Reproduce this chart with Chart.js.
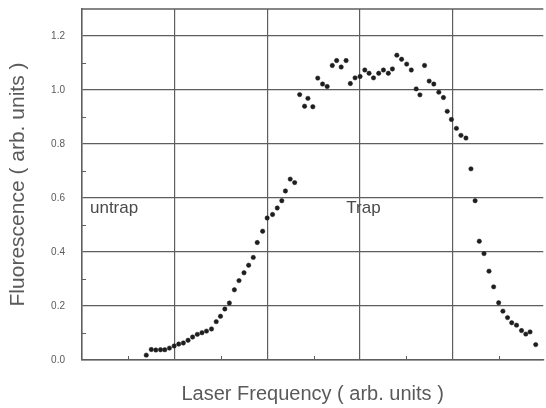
<!DOCTYPE html>
<html>
<head>
<meta charset="utf-8">
<script src="https://cdn.jsdelivr.net/npm/chart.js@4.4.1/dist/chart.umd.min.js"></script>
<style>
  html, body { margin: 0; padding: 0; background: #fff; }
  #wrap { width: 546px; height: 408px; }
</style>
</head>
<body>
<div id="wrap"><canvas id="fluoChart"></canvas></div>
<script>
// Fluorescence vs laser frequency

// laser frequency (arb. units, one grid cell = 1)
const freq = [
    0.694, 0.748, 0.797, 0.848, 0.894, 0.944, 0.995, 1.044, 1.094, 1.145,
    1.194, 1.245, 1.295, 1.344, 1.398, 1.449, 1.495, 1.542, 1.591, 1.645,
    1.695, 1.749, 1.799, 1.849, 1.892, 1.950, 1.999, 2.057, 2.108, 2.157,
    2.196, 2.248, 2.296, 2.350, 2.403, 2.439, 2.492, 2.545, 2.597, 2.647,
    2.702, 2.749, 2.798, 2.851, 2.897, 2.948, 3.002, 3.053, 3.099, 3.147,
    3.203, 3.254, 3.307, 3.351, 3.399, 3.450, 3.505, 3.555, 3.608, 3.648,
    3.698, 3.748, 3.798, 3.852, 3.902, 3.943, 3.988, 4.042, 4.091, 4.145,
    4.199, 4.244, 4.289, 4.340, 4.394, 4.444, 4.498, 4.544, 4.594, 4.639,
    4.691, 4.745, 4.791, 4.837, 4.898
];

// fluorescence (arb. units)
const fluo = [
    0.018, 0.039, 0.037, 0.038, 0.038, 0.044, 0.052, 0.059, 0.063, 0.073,
    0.085, 0.095, 0.101, 0.107, 0.115, 0.142, 0.162, 0.189, 0.211, 0.260,
    0.294, 0.323, 0.351, 0.380, 0.435, 0.477, 0.526, 0.539, 0.563, 0.590,
    0.626, 0.670, 0.657, 0.983, 0.940, 0.969, 0.938, 1.044, 1.022, 1.013,
    1.091, 1.109, 1.085, 1.109, 1.024, 1.045, 1.050, 1.074, 1.062, 1.045,
    1.062, 1.074, 1.062, 1.078, 1.129, 1.114, 1.096, 1.074, 1.004, 0.982,
    1.091, 1.033, 1.022, 0.992, 0.972, 0.921, 0.891, 0.858, 0.832, 0.822,
    0.708, 0.590, 0.440, 0.394, 0.329, 0.271, 0.212, 0.181, 0.157, 0.138,
    0.129, 0.109, 0.096, 0.104, 0.057
];

// y tick labels
const yTickValues = [0.0, 0.2, 0.4, 0.6, 0.8, 1.0, 1.2];
const yMinorTicks = [0.1, 0.3, 0.5, 0.7, 0.9, 1.1];
const xMinorTicks = [0.5, 1.5, 2.5, 3.5, 4.5];

// region labels
const regionLabels = [
    { text: 'untrap', x: 0.086, y: 0.561 },
    { text: 'Trap', x: 2.854, y: 0.561 }
];

const gridColor = '#5e5e5e';
const textColor = '#5a5a5a';

// top frame line and small inward ticks between grid lines
const minorTicksPlugin = {
    id: 'minorTicks',
    beforeDatasetsDraw(chart) {
        const { ctx, chartArea, scales: { x, y } } = chart;
        ctx.save();
        ctx.strokeStyle = gridColor;
        ctx.lineWidth = 1.5;
        ctx.beginPath();
        ctx.moveTo(chartArea.left, chartArea.top);
        ctx.lineTo(chartArea.right, chartArea.top);
        ctx.stroke();
        ctx.lineWidth = 1;
        yMinorTicks.forEach(v => {
            const py = Math.round(y.getPixelForValue(v)) + 0.5;
            ctx.beginPath();
            ctx.moveTo(x.left, py);
            ctx.lineTo(x.left + 4, py);
            ctx.stroke();
        });
        xMinorTicks.forEach(v => {
            const px = Math.round(x.getPixelForValue(v)) + 0.5;
            ctx.beginPath();
            ctx.moveTo(px, y.bottom);
            ctx.lineTo(px, y.bottom - 4);
            ctx.stroke();
        });
        ctx.restore();
    }
};

// "untrap" / "Trap" text inside the plot
const regionLabelPlugin = {
    id: 'regionLabels',
    afterDatasetsDraw(chart) {
        const { ctx, scales: { x, y } } = chart;
        ctx.save();
        ctx.font = '17px "Liberation Sans", Arial, sans-serif';
        ctx.fillStyle = '#4a4a4a';
        ctx.textBaseline = 'middle';
        ctx.textAlign = 'left';
        regionLabels.forEach(l => {
            ctx.fillText(l.text, x.getPixelForValue(l.x), y.getPixelForValue(l.y));
        });
        ctx.restore();
    }
};

new Chart(document.getElementById('fluoChart').getContext('2d'), {
    type: 'scatter',
    data: {
        datasets: [{
            label: 'Fluorescence',
            data: freq.map((f, i) => ({ x: f, y: fluo[i] })),
            pointRadius: 2.2,
            pointHoverRadius: 2.2,
            pointBackgroundColor: '#1e1e1e',
            pointBorderColor: '#1e1e1e',
            pointBorderWidth: 0.5
        }]
    },
    options: {
        responsive: true,
        maintainAspectRatio: false,
        animation: false,
        layout: { padding: { top: 9, right: 0, left: 0, bottom: 0 } },
        plugins: {
            legend: { display: false },
            tooltip: { enabled: false }
        },
        scales: {
            x: {
                type: 'linear',
                min: 0,
                max: 4.98,
                grid: { color: gridColor, lineWidth: 1.2, drawTicks: false },
                border: { color: gridColor, width: 1.5 },
                ticks: { display: false, stepSize: 1, includeBounds: false },
                title: {
                    display: true,
                    text: 'Laser Frequency ( arb. units )',
                    color: textColor,
                    font: { family: '"Liberation Sans", Arial, sans-serif', size: 20 },
                    padding: { top: 22, bottom: 2 }
                },
                afterFit: (axis) => {
                    axis.height = 48;
                    axis.paddingLeft = 0;
                    axis.paddingRight = 0;
                }
            },
            y: {
                type: 'linear',
                min: 0,
                max: 1.3,
                afterBuildTicks: (axis) => {
                    axis.ticks = yTickValues.map(v => ({ value: v }));
                },
                grid: { color: gridColor, lineWidth: 1.2, drawTicks: false },
                border: { color: gridColor, width: 1.5 },
                ticks: {
                    padding: 17,
                    color: textColor,
                    font: { family: '"Liberation Sans", Arial, sans-serif', size: 10 },
                    callback: (value) => value.toFixed(1)
                },
                title: {
                    display: true,
                    text: 'Fluorescence ( arb. units )',
                    color: textColor,
                    font: { family: '"Liberation Sans", Arial, sans-serif', size: 21 },
                    padding: { top: 6, bottom: 5 }
                },
                afterFit: (axis) => {
                    axis.width = 82;
                    axis.paddingTop = 0;
                    axis.paddingBottom = 0;
                }
            }
        }
    },
    plugins: [minorTicksPlugin, regionLabelPlugin]
});
</script>
</body>
</html>
